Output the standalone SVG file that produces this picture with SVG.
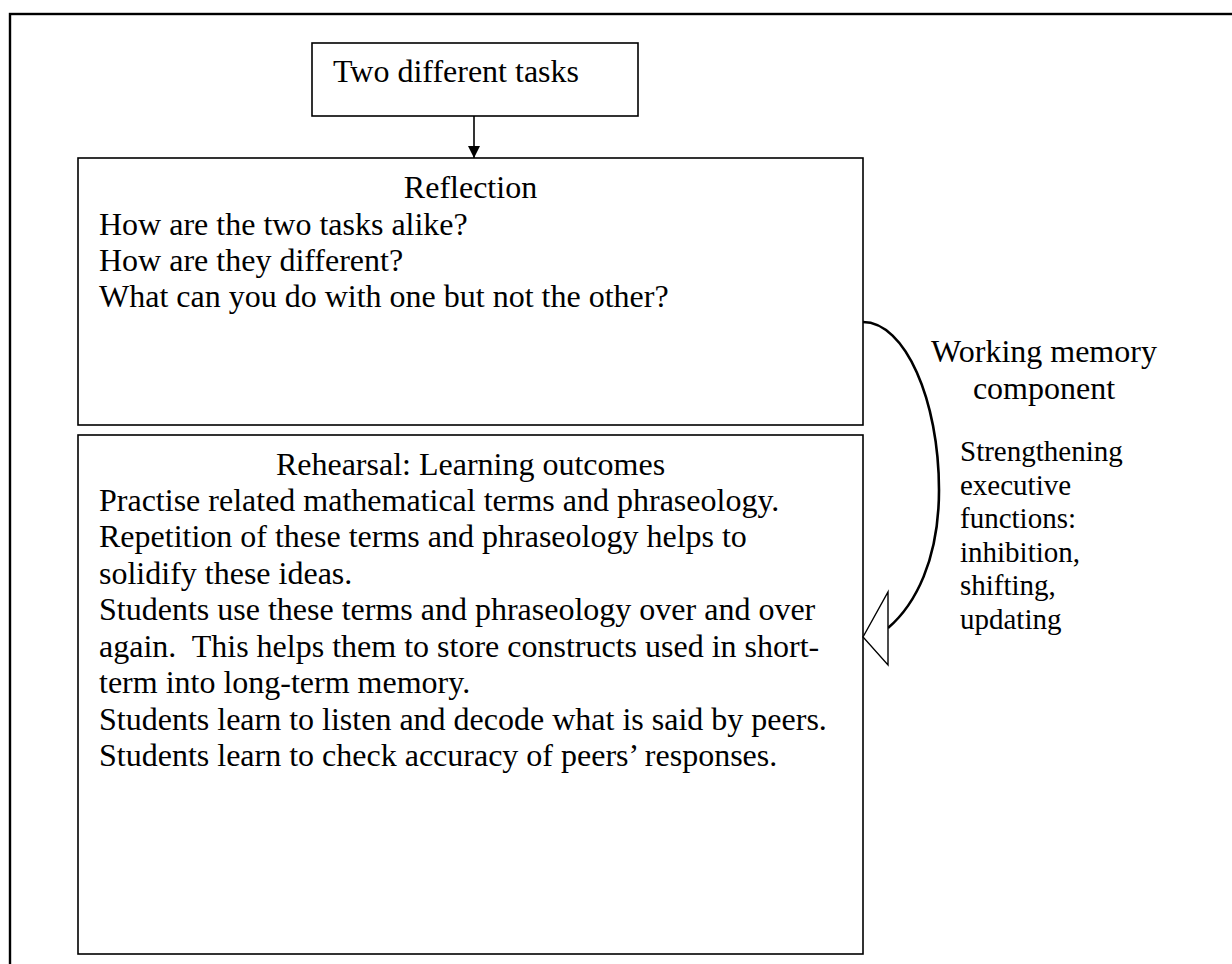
<svg xmlns="http://www.w3.org/2000/svg" width="1232" height="964" viewBox="0 0 1232 964">
<style>
.box{fill:#fff;stroke:#000;stroke-width:1.6}
.t{font-family:"Liberation Serif","Times New Roman",serif;font-size:32px;fill:#000}
.s{font-family:"Liberation Serif","Times New Roman",serif;font-size:29px;fill:#000}
.c{text-anchor:middle}
</style>
<defs>
<marker id="ah" viewBox="0 0 12 12" refX="12" refY="6" markerWidth="12" markerHeight="12" markerUnits="userSpaceOnUse" orient="auto">
<path d="M0,0 L12,6 L0,12 Z" fill="#000"/>
</marker>
</defs>
<rect width="1232" height="964" fill="#fff"/>
<rect id="frame" x="10" y="14" width="1260" height="990" fill="none" stroke="#000" stroke-width="2.4"/>
<g id="tasks">
<rect class="box" x="312" y="43" width="326" height="73"/>
<text class="t" x="333" y="82">Two different tasks</text>
</g>
<g id="reflection">
<rect class="box" x="78" y="158" width="785" height="267"/>
<text class="t c" x="470.5" y="198">Reflection</text>
<text class="t" x="99" y="235">How are the two tasks alike?</text>
<text class="t" x="99" y="271">How are they different?</text>
<text class="t" x="99" y="307">What can you do with one but not the other?</text>
</g>
<g id="rehearsal">
<rect class="box" x="78" y="435" width="785" height="519"/>
<text class="t c" x="470.5" y="475">Rehearsal: Learning outcomes</text>
<text class="t" x="99" y="511">Practise related mathematical terms and phraseology.</text>
<text class="t" x="99" y="547">Repetition of these terms and phraseology helps to</text>
<text class="t" x="99" y="584">solidify these ideas.</text>
<text class="t" x="99" y="620">Students use these terms and phraseology over and over</text>
<text class="t" x="99" y="657" xml:space="preserve">again.  This helps them to store constructs used in short-</text>
<text class="t" x="99" y="693">term into long-term memory.</text>
<text class="t" x="99" y="730">Students learn to listen and decode what is said by peers.</text>
<text class="t" x="99" y="766">Students learn to check accuracy of peers’ responses.</text>
</g>
<g id="wm-label">
<text class="t c" x="1044" y="362">Working memory</text>
<text class="t c" x="1044" y="399">component</text>
</g>
<g id="ef-label">
<text class="s" x="960" y="461">Strengthening</text>
<text class="s" x="960" y="494.5">executive</text>
<text class="s" x="960" y="528">functions:</text>
<text class="s" x="960" y="561.5">inhibition,</text>
<text class="s" x="960" y="595">shifting,</text>
<text class="s" x="960" y="628.5">updating</text>
</g>
<g id="connectors">
<line x1="474" y1="116" x2="474" y2="158" stroke="#000" stroke-width="1.6" marker-end="url(#ah)"/>
<path d="M863,322 C905,322 939,400 939,490 C939,560 915,605 888,628" fill="none" stroke="#000" stroke-width="2.6"/>
<polygon points="863,637 888,592 888,665" fill="#fff" stroke="#000" stroke-width="1.4" stroke-linejoin="miter"/>
</g>
</svg>
